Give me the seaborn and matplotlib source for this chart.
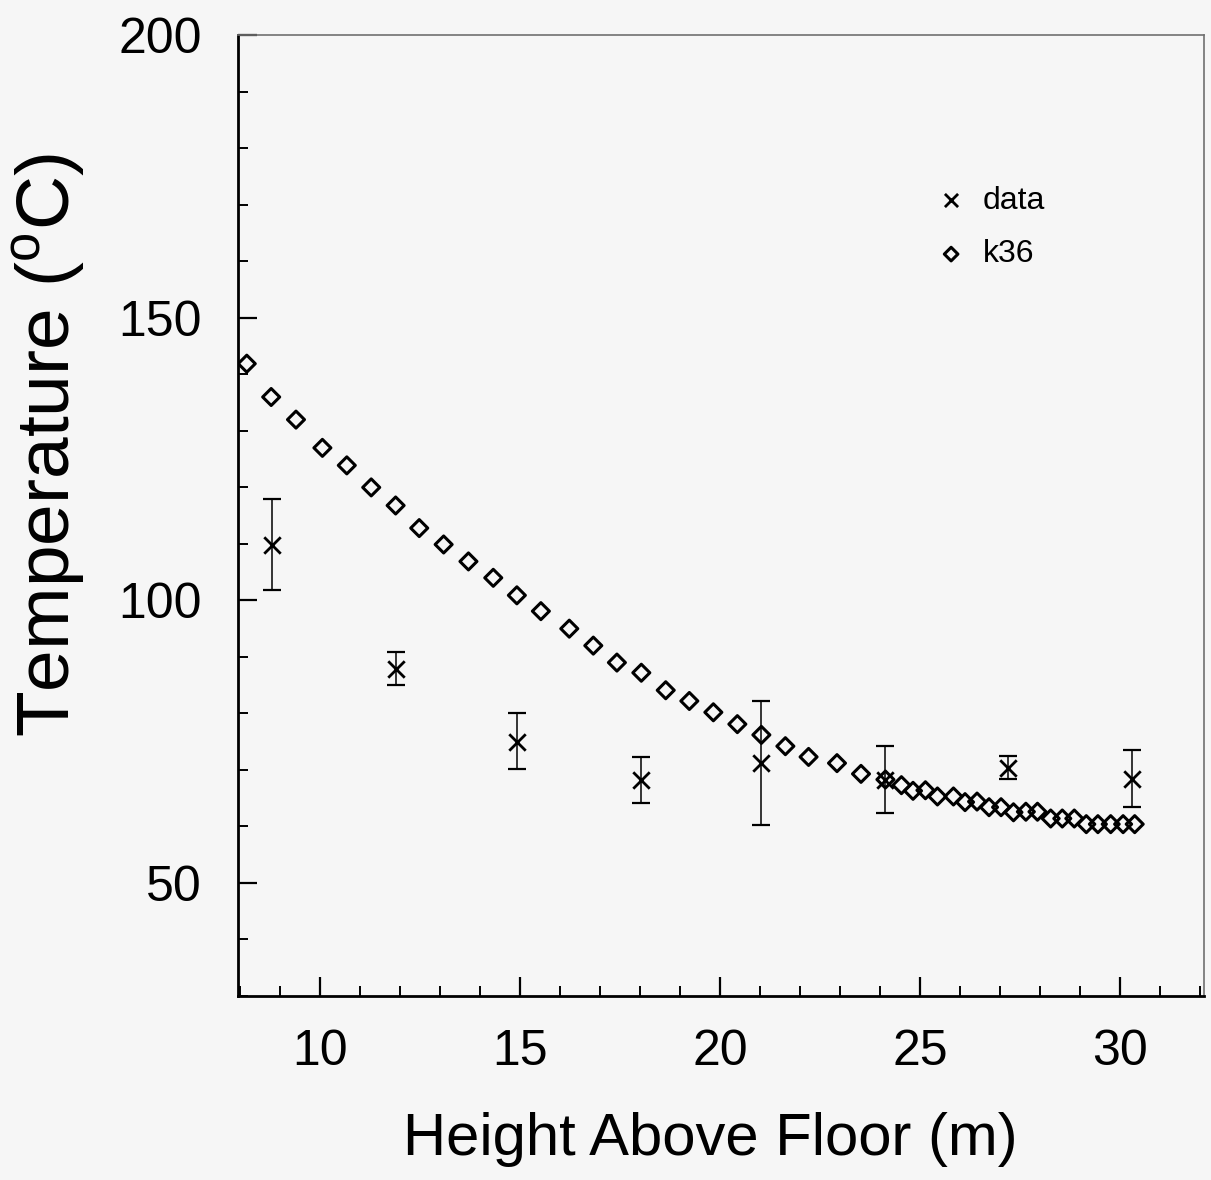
import numpy as np
import pandas as pd
import matplotlib
matplotlib.use("Agg")
import matplotlib.pyplot as plt
from matplotlib.ticker import MultipleLocator
import seaborn as sns

# Measured temperatures with their error bounds
data_height = [8.79, 11.89, 14.92, 18.03, 21.03, 24.13, 27.20, 30.28]
data_temp = [109.8, 87.8, 75.0, 68.2, 71.2, 68.3, 70.4, 68.4]
data_low = [101.9, 85.0, 70.1, 64.1, 60.2, 62.3, 68.4, 63.5]
data_high = [118.0, 90.9, 80.0, 72.2, 82.2, 74.3, 72.5, 73.5]

# Model profile k36
k36_height = [8.17, 8.78, 9.40, 10.06, 10.67, 11.28, 11.89, 12.48, 13.09, 13.71,
              14.33, 14.92, 15.52, 16.23, 16.83, 17.42, 18.03, 18.64, 19.23, 19.83,
              20.43, 21.03, 21.63, 22.21, 22.92, 23.52, 24.13, 24.53, 24.82, 25.13,
              25.43, 25.83, 26.12, 26.42, 26.72, 27.02, 27.33, 27.64, 27.93, 28.26,
              28.55, 28.85, 29.15, 29.44, 29.76, 30.07, 30.36]
k36_temp = [141.9, 136.0, 132.0, 127.0, 123.9, 120.0, 116.8, 112.8, 109.9, 106.9,
            104.0, 100.9, 98.1, 95.0, 92.0, 89.0, 87.2, 84.1, 82.2, 80.2,
            78.1, 76.2, 74.2, 72.3, 71.2, 69.3, 68.3, 67.3, 66.3, 66.4,
            65.3, 65.3, 64.3, 64.4, 63.4, 63.4, 62.5, 62.6, 62.6, 61.4,
            61.4, 61.4, 60.4, 60.4, 60.4, 60.4, 60.4]

x_ticks = [10, 15, 20, 25, 30]
y_ticks = [50, 100, 150, 200]

sns.set_theme(style="ticks")
plt.rcParams["font.family"] = ["Liberation Sans", "DejaVu Sans"]
plt.rcParams["mathtext.fontset"] = "custom"
plt.rcParams["mathtext.rm"] = "Liberation Sans"
for key in ["text.color", "axes.labelcolor", "xtick.color", "ytick.color"]:
    plt.rcParams[key] = "black"

bg = "#f6f6f6"
fig = plt.figure(figsize=(12.11, 11.8), dpi=100, facecolor=bg)
ax = fig.add_axes([0.1965, 0.156, 0.798, 0.814])
ax.set_facecolor(bg)

measured = pd.DataFrame({"h": data_height, "t": data_temp,
                         "lo": data_low, "hi": data_high})
model = pd.DataFrame({"h": k36_height, "t": k36_temp})

# error bars of the measurements
ax.errorbar(measured["h"], measured["t"],
            yerr=[measured["t"] - measured["lo"], measured["hi"] - measured["t"]],
            fmt="none", ecolor="black", elinewidth=1.1, capsize=6.5,
            capthick=1.6, zorder=2)

sns.scatterplot(data=model, x="h", y="t", ax=ax, marker="D", s=75,
                facecolor="none", edgecolor="black", linewidth=2.2,
                label="k36", zorder=3)
sns.scatterplot(data=measured, x="h", y="t", ax=ax, marker="x", s=140,
                color="black", linewidth=2.0, label="data", zorder=4)

ax.set_xlim(7.95, 32.1)
ax.set_ylim(30, 200)
ax.set_xticks(x_ticks)
ax.set_yticks(y_ticks)
ax.xaxis.set_minor_locator(MultipleLocator(1))
ax.yaxis.set_minor_locator(MultipleLocator(10))
ax.tick_params(axis="both", which="major", direction="in", length=14,
               width=1.6, colors="black", labelsize=36)
ax.tick_params(axis="x", which="major", pad=24)
ax.tick_params(axis="y", which="major", pad=26)
ax.tick_params(axis="both", which="minor", direction="in", length=7,
               width=1.4, colors="black")
ax.tick_params(axis="y", which="both", right=False)
ax.tick_params(axis="x", which="both", top=False)

for side in ["left", "bottom"]:
    ax.spines[side].set_linewidth(2.0)
    ax.spines[side].set_color("black")
for side in ["top", "right"]:
    ax.spines[side].set_visible(True)
    ax.spines[side].set_linewidth(1.2)
    ax.spines[side].set_color("#707070")

ax.set_xlabel("Height Above Floor (m)", fontsize=43)
ax.set_ylabel(r"Temperature ($^{\mathrm{o}}$C)", fontsize=54)
ax.xaxis.set_label_coords(0.489, -0.15)
ax.yaxis.set_label_coords(-0.196, 0.573)
ax.xaxis.label.set_va("center")
ax.yaxis.label.set_va("center")

handles, labels = ax.get_legend_handles_labels()
order = [labels.index("data"), labels.index("k36")]
leg = ax.legend([handles[i] for i in order], [labels[i] for i in order],
                loc="center left", bbox_to_anchor=(0.695, 0.80),
                frameon=False, fontsize=23, handlelength=0.8,
                handletextpad=0.6, labelspacing=0.75, markerscale=0.8)

fig.savefig("out.png", dpi=100, facecolor=bg)
